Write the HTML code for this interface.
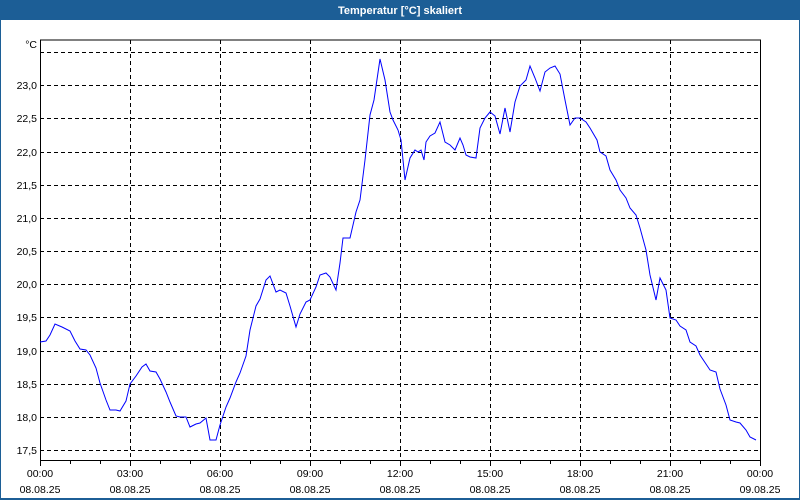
<!DOCTYPE html>
<html><head><meta charset="utf-8"><style>
html,body{margin:0;padding:0;background:#fff}
svg{display:block}
text{font-family:"Liberation Sans",sans-serif;font-size:10.5px;fill:#000}
</style></head><body>
<svg width="800" height="500" xmlns="http://www.w3.org/2000/svg">
<rect x="0" y="0" width="800" height="500" fill="#1c5e96"/>
<rect x="1" y="20" width="798" height="478" fill="#fff"/>
<text x="400" y="14" text-anchor="middle" style="fill:#fff;font-weight:bold;font-size:11px">Temperatur [°C] skaliert</text>
<g stroke="#000" stroke-width="1" stroke-dasharray="4,3" fill="none">
<path d="M40 52.5H760M40 85.5H760M40 118.5H760M40 152.5H760M40 185.5H760M40 218.5H760M40 251.5H760M40 284.5H760M40 317.5H760M40 351.5H760M40 384.5H760M40 417.5H760M40 450.5H760"/>
<path d="M130.5 40V460M220.5 40V460M310.5 40V460M400.5 40V460M490.5 40V460M580.5 40V460M670.5 40V460"/>
</g>
<path d="M40.5 40V460.5H760.5V40H40" stroke="#000" fill="none"/>
<g stroke="#000"><path d="M40.5 460V466M70.5 460V464M100.5 460V464M130.5 460V466M160.5 460V464M190.5 460V464M220.5 460V466M250.5 460V464M280.5 460V464M310.5 460V466M340.5 460V464M370.5 460V464M400.5 460V466M430.5 460V464M460.5 460V464M490.5 460V466M520.5 460V464M550.5 460V464M580.5 460V466M610.5 460V464M640.5 460V464M670.5 460V466M700.5 460V464M730.5 460V464M760.5 460V466"/></g>
<g text-anchor="end">
<text x="37" y="48">°C</text>
<text x="37" y="89">23,0</text><text x="37" y="122">22,5</text><text x="37" y="156">22,0</text><text x="37" y="189">21,5</text><text x="37" y="222">21,0</text><text x="37" y="255">20,5</text><text x="37" y="288">20,0</text><text x="37" y="321">19,5</text><text x="37" y="355">19,0</text><text x="37" y="388">18,5</text><text x="37" y="421">18,0</text><text x="37" y="454">17,5</text>
</g>
<g text-anchor="middle">
<text x="40" y="477">00:00</text><text x="40" y="493">08.08.25</text>
<text x="130" y="477">03:00</text><text x="130" y="493">08.08.25</text>
<text x="220" y="477">06:00</text><text x="220" y="493">08.08.25</text>
<text x="310" y="477">09:00</text><text x="310" y="493">08.08.25</text>
<text x="400" y="477">12:00</text><text x="400" y="493">08.08.25</text>
<text x="490" y="477">15:00</text><text x="490" y="493">08.08.25</text>
<text x="580" y="477">18:00</text><text x="580" y="493">08.08.25</text>
<text x="670" y="477">21:00</text><text x="670" y="493">08.08.25</text>
<text x="760" y="477">00:00</text><text x="760" y="493">09.08.25</text>
</g>
<polyline fill="none" stroke="#0000ff" stroke-width="1" points="40,342 46,341 50,335 55,324 62,327 70,331 75,341 80,349 86,350 90,355 96,368 100,383 106,400 110,410 116,410 120,411 126,401 130,384 136,376 142,367 146,364 150,371 156,372 160,379 166,392 170,402 176,416 180,417 186,417 190,427 196,424 200,423 206,418 210,440 216,440 220,425 226,407 230,398 236,382 240,373 246,356 250,330 256,306 260,299 266,280 270,276 276,292 280,290 286,293 290,306 296,327 300,314 306,302 310,300 316,287 320,275 326,273 330,277 336,290 340,263 343,238 350,238 356,212 360,200 365,160 370,115 374,100 380,59 385,80 390,112 393,120 398,130 401,140 405,180 410,158 415,150 418,152 421,150 424,160 426,142 430,136 435,133 440,122 445,142 450,145 455,150 460,138 463,145 466,155 470,157 476,158 480,128 485,118 490,112 495,116 500,134 505,108 510,132 515,102 520,86 526,80 530,66 535,78 540,91 545,72 550,68 555,66 560,74 565,100 570,125 575,118 580,118 586,122 590,128 597,140 600,152 606,156 610,170 616,180 620,190 626,198 630,208 636,215 640,228 646,250 650,275 656,300 660,278 666,290 670,318 676,320 680,326 686,330 690,342 696,346 700,355 706,364 710,370 716,372 720,389 726,405 730,420 736,422 740,423 746,430 750,437 756,440"/>
</svg>
</body></html>
